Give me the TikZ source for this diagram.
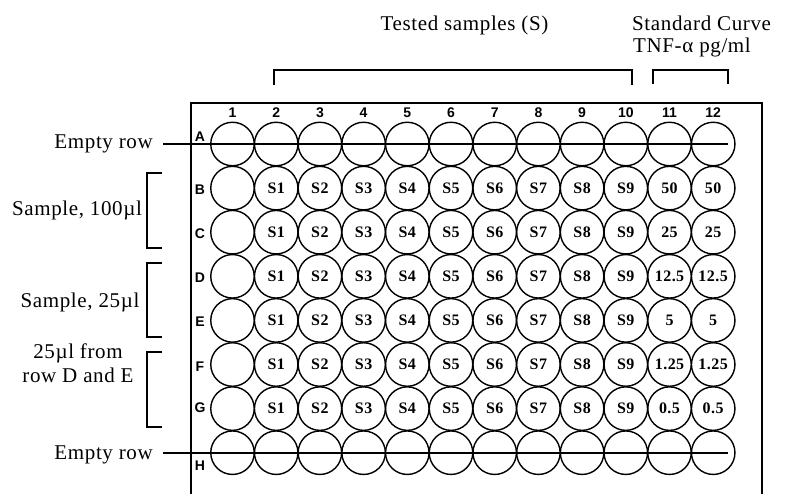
\documentclass[tikz,border=0pt]{standalone}
\usepackage{fontspec}
\setmainfont{Liberation Serif}[LetterSpace=3]
\newfontfamily\lsans{Liberation Sans}
\usetikzlibrary{calc}
\begin{document}
\begin{tikzpicture}[x=1pt,y=-1pt,
  well/.style={circle,draw,line width=1.4pt,minimum size=43.5pt,inner sep=0pt,
    font=\bfseries\fontsize{16}{16}\selectfont},
  lbl/.style={inner sep=0pt,font=\fontsize{21}{25}\selectfont},
  num/.style={inner sep=0pt,font=\lsans\bfseries\fontsize{14}{14}\selectfont},
  plate/.style={line width=2.6pt},
  rowline/.style={line width=2.6pt},
  bracket/.style={line width=2.2pt}]
\useasboundingbox (0,0) rectangle (786,493);
% plate outline
\coordinate (pbl) at (191,496);
\coordinate (ptl) at (191,103);
\coordinate (ptr) at (762,103);
\coordinate (pbr) at (762,496);
\draw[plate] (pbl) -- (ptl) -- (ptr) -- (pbr);
% column numbers
\foreach \c in {1,...,12} {
  \node[num] (col\c) at ({232.5+(\c-1)*43.7},113) {\c};
}
% wells
\foreach \r/\v [count=\i from 0] in {A/,B/50,C/25,D/12.5,E/5,F/1.25,G/0.5,H/} {
  \foreach \c in {1,...,12} {
    \pgfmathsetmacro\xx{232.5+(\c-1)*43.7}
    \pgfmathsetmacro\yy{144+\i*44.1}
    \pgfmathtruncatemacro\s{\c-1}
    \def\txt{}
    \ifnum\i>0 \ifnum\i<7 \ifnum\c>1 \ifnum\c<11 \edef\txt{S\s}\else \edef\txt{\v}\fi\fi\fi\fi
    \node[well] (w\r\c) at (\xx,\yy) {\txt};
  }
}
% row letters
\node[num] (rlA) at (200,137) {A};
\foreach \r/\yy in {B/190,C/234,D/278,E/321.5,F/367,G/408} {
  \node[num] (rl\r) at (200,\yy) {\r};
}
\node[num] (rlH) at (200,466) {H};
% empty row lines
\node[lbl,anchor=base east] (emptyA) at (153,148) {Empty row};
\node[lbl,anchor=base east] (emptyH) at (153,459) {Empty row};
\coordinate (aE) at (728,144);
\coordinate (hE) at (728,453);
\draw[rowline] ($(emptyA.base east)+(10,-4)$) -- (aE);
\draw[rowline] ($(emptyH.base east)+(10,-6)$) -- (hE);
% left labels and brackets
\node[lbl,anchor=base] (s100) at (77,215) {Sample, 100µl};
\node[lbl,anchor=base] (s25) at (80,307) {Sample, 25µl};
\node[lbl,anchor=base,align=center] (s25de) at (78,382) {25µl from\\[-1pt]row D and E};
\coordinate (b1t) at (162,173); \coordinate (b1b) at (162,248);
\coordinate (b2t) at (162,263); \coordinate (b2b) at (162,337);
\coordinate (b3t) at (162,352); \coordinate (b3b) at (162,427);
\draw[bracket] (b1t) -- (147,173) -- (147,248) -- (b1b);
\draw[bracket] (b2t) -- (147,263) -- (147,337) -- (b2b);
\draw[bracket] (b3t) -- (147,352) -- (147,427) -- (b3b);
% top labels and brackets
\node[lbl,anchor=base] (tested) at (464.5,30) {Tested samples (S)};
\node[lbl,anchor=base west] (std) at (632,30) {Standard Curve};
\node[lbl,anchor=base west] (tnf) at (633,52) {TNF-α pg/ml};
\coordinate (t1l) at (274,85); \coordinate (t1r) at (632,85);
\coordinate (t2l) at (653,84); \coordinate (t2r) at (728,84);
\draw[bracket] (t1l) -- (274,70) -- (632,70) -- (t1r);
\draw[bracket] (t2l) -- (653,70) -- (728,70) -- (t2r);
\end{tikzpicture}
\end{document}
